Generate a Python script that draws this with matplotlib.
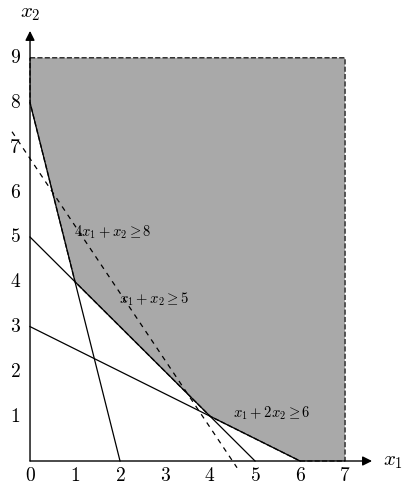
import matplotlib

matplotlib.use("Agg")
import matplotlib.pyplot as plt
import numpy as np

plt.rcParams["mathtext.fontset"] = "cm"

# constraint lines: a*x1 + b*x2 = c
constraints = [(4, 1, 8), (1, 1, 5), (1, 2, 6)]
constraint_labels = [r"$4x_1 + x_2 \geq 8$", r"$x_1 + x_2 \geq 5$", r"$x_1 + 2x_2 \geq 6$"]
label_pos = [(0.98, 5.1), (1.98, 3.6), (4.5, 1.07)]

# feasible region vertices
region_x = [0, 7, 7, 6, 4, 1, 0]
region_y = [9, 9, 0, 0, 1, 4, 8]

# objective level line 3x1 + 2x2 = 13.5
obj = (3, 2, 13.5)
obj_x = [-0.4, 4.6]

x_ticks = [0, 1, 2, 3, 4, 5, 6, 7]
y_ticks = [1, 2, 3, 4, 5, 6, 7, 8, 9]

fig = plt.figure(figsize=(4.04, 4.86), dpi=100)
ax = fig.add_axes([0, 0, 1, 1])
ax.set_xlim(-0.667, 8.31)
ax.set_ylim(-0.558, 10.29)
ax.axis("off")

ax.fill(region_x, region_y, facecolor="#a9a9a9", edgecolor="#222222",
        linestyle="--", linewidth=1.0, zorder=1)

for a, b, c in constraints:
    xs = np.array([0, c / a])
    ax.plot(xs, (c - a * xs) / b, color="black", linewidth=0.9, zorder=2)

xs = np.array(obj_x)
ax.plot(xs, (obj[2] - obj[0] * xs) / obj[1], color="black", linewidth=0.9,
        linestyle=(0, (4, 4)), zorder=2)

for txt, (tx, ty) in zip(constraint_labels, label_pos):
    ax.text(tx, ty, txt, fontsize=10.5, va="center", ha="left", zorder=3)

# axes with arrows
ax.annotate("", xy=(7.6, 0), xytext=(0, 0),
            arrowprops=dict(arrowstyle="-|>", color="black", lw=1.0,
                            mutation_scale=14, shrinkA=0, shrinkB=0))
ax.annotate("", xy=(0, 9.6), xytext=(0, 0),
            arrowprops=dict(arrowstyle="-|>", color="black", lw=1.0,
                            mutation_scale=14, shrinkA=0, shrinkB=0))
ax.text(7.85, 0.0, r"$x_1$", fontsize=15, va="center", ha="left")
ax.text(0.0, 10.0, r"$x_2$", fontsize=15, va="center", ha="center")

for t in x_ticks:
    ax.text(t, -0.32, r"$%d$" % t, fontsize=14, va="center", ha="center")
for t in y_ticks:
    ax.text(-0.33, t, r"$%d$" % t, fontsize=14, va="center", ha="center")

plt.savefig("out.png", dpi=100)
